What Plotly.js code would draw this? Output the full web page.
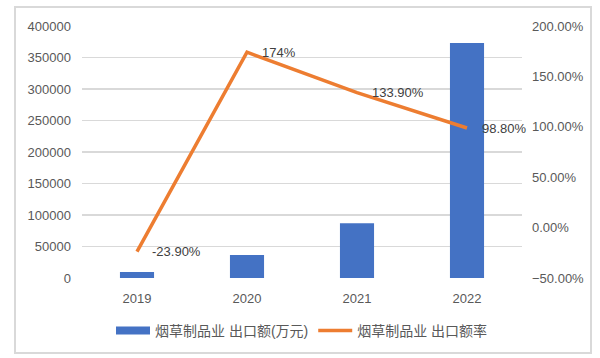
<!DOCTYPE html>
<html><head><meta charset="utf-8">
<script src="https://cdn.plot.ly/plotly-3.0.1.min.js"></script>
<style>
html,body{margin:0;padding:0;background:#fff;}
#wrap{position:relative;width:600px;height:358px;}
#chart{width:600px;height:358px;}
#frame{position:absolute;left:14px;top:6px;width:574px;height:344px;border:2px solid #d9d9d9;pointer-events:none;}
</style></head>
<body>
<div id="wrap"><div id="chart"></div><div id="frame"></div></div>
<script>
const years = ['2019', '2020', '2021', '2022'];
const exportValue = [9500, 36500, 87000, 373000];
const exportRate = [-23.9, 174, 133.9, 98.8];
const rateLabels = ['-23.90%', '174%', '133.90%', '98.80%'];
const barName = '烟草制品业 出口额(万元)';
const lineName = '烟草制品业 出口额率';

const font = '"Liberation Sans", Arial, "Noto Sans CJK SC", sans-serif';
const traces = [
  {type:'bar', x:years, y:exportValue, name:barName, marker:{color:'#4472C4'}, width:0.31, showlegend:false, hoverinfo:'skip'},
  {type:'scatter', mode:'lines', x:[years[0]], y:[null], name:barName, line:{color:'#4472C4', width:8}, hoverinfo:'skip'},
  {type:'scatter', mode:'lines', x:years, y:exportRate, yaxis:'y2', name:lineName,
   line:{color:'#ED7D31', width:3.5}, hoverinfo:'skip'}
];
const annotations = years.map((yr, i) => ({
  x: i, y: exportRate[i], xref:'x', yref:'y2', text: rateLabels[i],
  showarrow:false, xanchor:'left', yanchor:'middle', xshift:13,
  font:{family:font, size:13, color:'#404040'}
}));
const layout = {
  width:600, height:358,
  margin:{l:82, r:78, t:26, b:79},
  paper_bgcolor:'#fff', plot_bgcolor:'#fff',
  font:{family:font, size:13, color:'#595959'},
  bargap:0.69,
  annotations: annotations,
  xaxis:{type:'category', categoryorder:'array', categoryarray:years, range:[-0.5, years.length - 0.5], showgrid:false, zeroline:false, showline:false, ticks:'outside', ticklen:8, tickcolor:'rgba(0,0,0,0)', tickfont:{size:13, color:'#595959'}},
  yaxis:{range:[0,400000], dtick:50000, showgrid:true, gridcolor:'#d9d9d9', gridwidth:1.3, zeroline:false, showline:false, tickformat:'d', ticklabelstandoff:10, tickfont:{size:13, color:'#595959'}},
  yaxis2:{overlaying:'y', side:'right', range:[-50,200], dtick:50, showgrid:false, zeroline:false, showline:false, ticksuffix:'%', tickformat:'.2f', ticklabelstandoff:9, tickfont:{size:13, color:'#595959'}},
  legend:{orientation:'h', x:0.5, xanchor:'center', y:-0.205, yanchor:'middle', font:{size:14, color:'#595959', family:'"Liberation Sans", "Noto Sans CJK SC", sans-serif'}, itemwidth:34, traceorder:'normal'},
  showlegend:true
};
Plotly.newPlot('chart', traces, layout, {staticPlot:true, displayModeBar:false});
</script>
</body></html>
